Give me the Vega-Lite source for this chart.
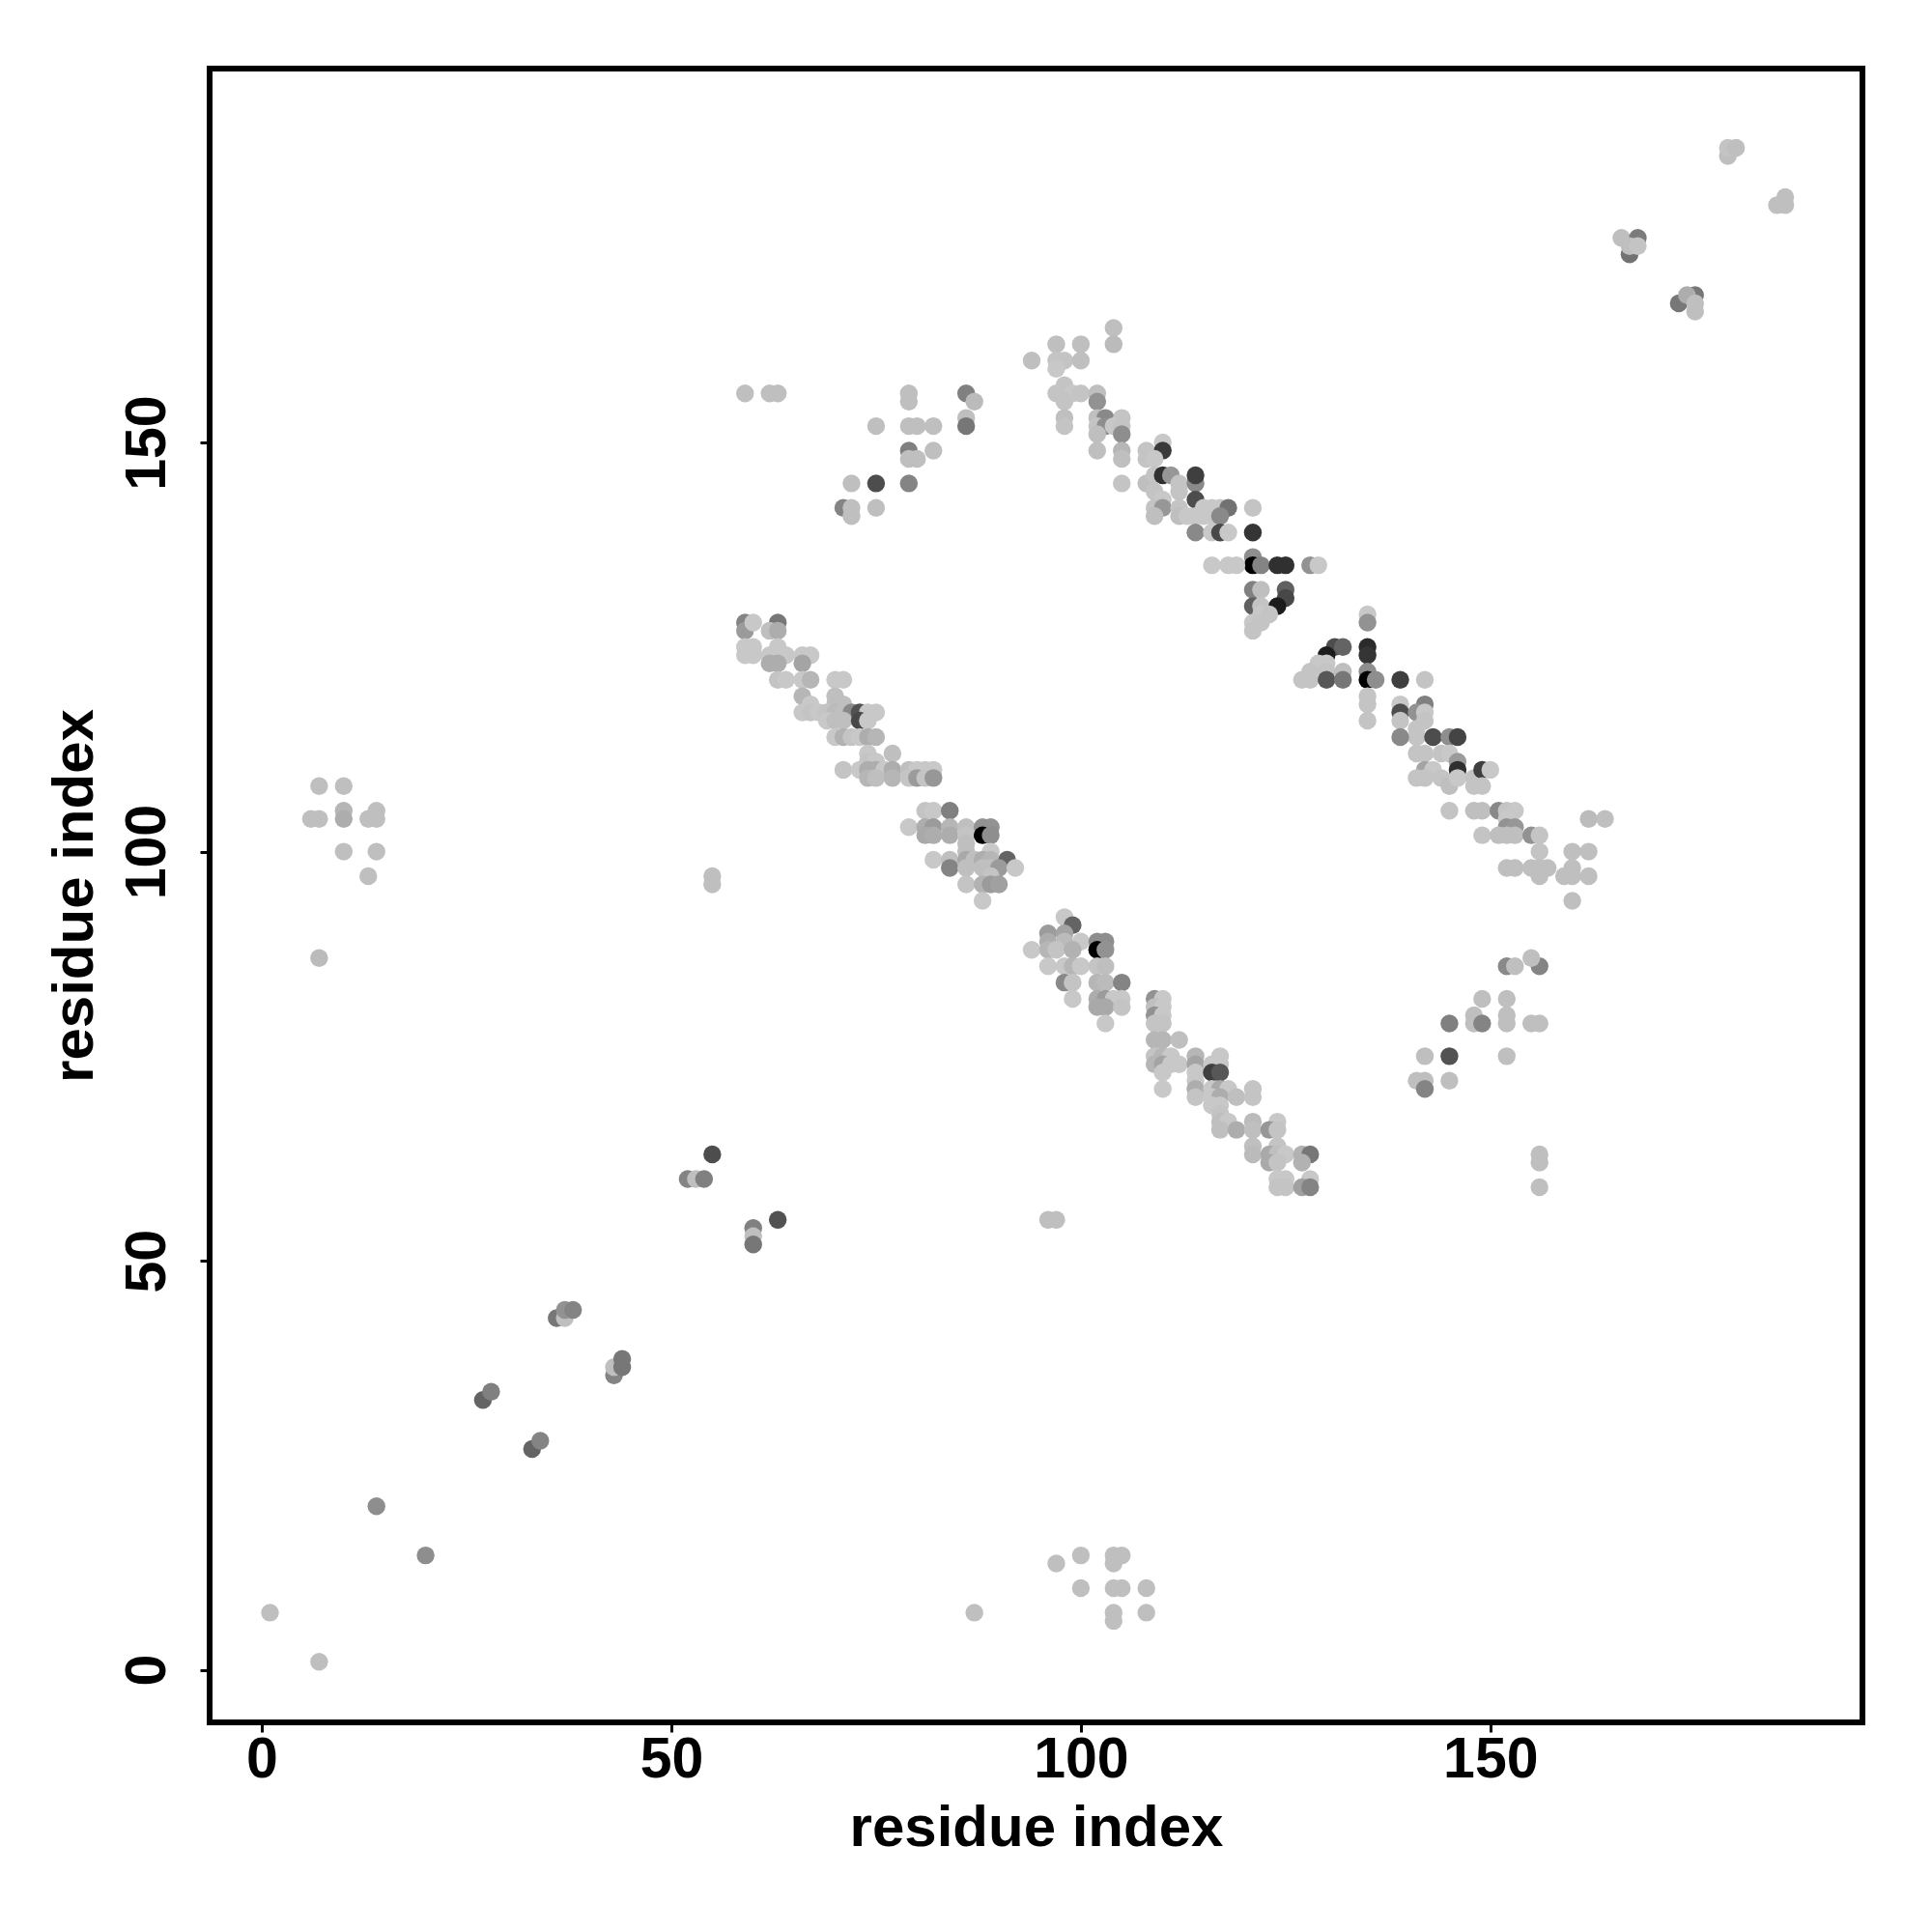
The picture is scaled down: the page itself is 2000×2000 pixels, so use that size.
{"$schema":"https://vega.github.io/schema/vega-lite/v6.json","width":1711,"height":1712,"autosize":{"type":"none"},"padding":{"left":217,"top":71,"right":72,"bottom":217},"background":"white","config":{"view":{"stroke":"black","strokeWidth":6}},
"data":{"values":[
{"x":59,"y":128,"g":125},{"x":59,"y":127,"g":150},{"x":60,"y":128,"g":200},{"x":63,"y":128,"g":110},{"x":62,"y":127,"g":190},{"x":63,"y":127,"g":170},{"x":59,"y":125,"g":200},{"x":60,"y":125,"g":200},{"x":59,"y":124,"g":200},{"x":60,"y":124,"g":200},{"x":63,"y":125,"g":200},{"x":62,"y":124,"g":200},{"x":63,"y":124,"g":200},{"x":64,"y":124,"g":200},{"x":66,"y":124,"g":200},{"x":67,"y":124,"g":200},{"x":62,"y":123,"g":170},{"x":63,"y":123,"g":170},{"x":66,"y":123,"g":160},
{"x":63,"y":121,"g":195},{"x":64,"y":121,"g":200},{"x":66,"y":121,"g":200},{"x":67,"y":121,"g":180},{"x":70,"y":121,"g":200},{"x":71,"y":121,"g":200},{"x":66,"y":119,"g":180},{"x":70,"y":119,"g":190},{"x":67,"y":118,"g":200},{"x":70,"y":118,"g":190},{"x":71,"y":118,"g":190},{"x":66,"y":117,"g":200},{"x":67,"y":117,"g":195},{"x":68,"y":117,"g":200},{"x":69,"y":117,"g":195},{"x":70,"y":117,"g":185},{"x":71,"y":117,"g":190},{"x":72,"y":117,"g":130},{"x":73,"y":117,"g":70},{"x":74,"y":117,"g":200},{"x":75,"y":117,"g":200},{"x":69,"y":116,"g":200},{"x":70,"y":116,"g":190},{"x":71,"y":116,"g":190},{"x":73,"y":116,"g":60},{"x":74,"y":116,"g":200},
{"x":70,"y":114,"g":200},{"x":71,"y":114,"g":175},{"x":72,"y":114,"g":195},{"x":73,"y":114,"g":200},{"x":74,"y":114,"g":170},{"x":75,"y":114,"g":180},{"x":74,"y":112,"g":200},{"x":77,"y":112,"g":190},{"x":74,"y":111,"g":195},{"x":75,"y":111,"g":200},{"x":71,"y":110,"g":195},{"x":73,"y":110,"g":200},{"x":74,"y":110,"g":170},{"x":75,"y":110,"g":170},{"x":76,"y":110,"g":200},{"x":77,"y":110,"g":170},{"x":79,"y":110,"g":190},{"x":80,"y":110,"g":200},{"x":81,"y":110,"g":200},{"x":82,"y":110,"g":200},{"x":74,"y":109,"g":180},{"x":75,"y":109,"g":190},{"x":77,"y":109,"g":180},{"x":79,"y":109,"g":195},{"x":80,"y":109,"g":150},{"x":81,"y":109,"g":195},{"x":82,"y":109,"g":145},
{"x":81,"y":105,"g":195},{"x":82,"y":105,"g":200},{"x":84,"y":105,"g":120},{"x":79,"y":103,"g":200},{"x":81,"y":103,"g":170},{"x":82,"y":103,"g":150},{"x":84,"y":103,"g":180},{"x":86,"y":103,"g":190},{"x":88,"y":103,"g":140},{"x":89,"y":103,"g":140},{"x":81,"y":102,"g":165},{"x":82,"y":102,"g":170},{"x":84,"y":102,"g":170},{"x":86,"y":102,"g":195},{"x":88,"y":102,"g":0},{"x":89,"y":102,"g":135},{"x":86,"y":101,"g":190},{"x":86,"y":100,"g":190},{"x":89,"y":100,"g":200},{"x":82,"y":99,"g":200},{"x":84,"y":99,"g":190},{"x":86,"y":99,"g":165},{"x":87,"y":99,"g":190},{"x":88,"y":99,"g":170},{"x":89,"y":99,"g":180},{"x":91,"y":99,"g":90},{"x":84,"y":98,"g":125},{"x":86,"y":98,"g":190},{"x":88,"y":98,"g":190},{"x":89,"y":98,"g":190},{"x":90,"y":98,"g":150},{"x":92,"y":98,"g":200},{"x":89,"y":97,"g":195},{"x":86,"y":96,"g":195},{"x":88,"y":96,"g":175},{"x":89,"y":96,"g":150},{"x":90,"y":96,"g":155},{"x":88,"y":94,"g":200},
{"x":98,"y":92,"g":200},{"x":99,"y":91,"g":90},{"x":96,"y":90,"g":150},{"x":98,"y":90,"g":160},{"x":96,"y":89,"g":170},{"x":98,"y":89,"g":185},{"x":100,"y":89,"g":200},{"x":102,"y":89,"g":135},{"x":103,"y":89,"g":135},{"x":94,"y":88,"g":200},{"x":96,"y":88,"g":180},{"x":97,"y":88,"g":195},{"x":99,"y":88,"g":175},{"x":102,"y":88,"g":0},{"x":103,"y":88,"g":140},{"x":96,"y":86,"g":200},{"x":98,"y":86,"g":200},{"x":99,"y":86,"g":180},{"x":100,"y":86,"g":200},{"x":102,"y":86,"g":195},{"x":103,"y":86,"g":190},{"x":98,"y":84,"g":130},{"x":99,"y":84,"g":195},{"x":102,"y":84,"g":180},{"x":103,"y":84,"g":185},{"x":105,"y":84,"g":125},{"x":99,"y":82,"g":200},{"x":102,"y":82,"g":170},{"x":103,"y":82,"g":150},{"x":104,"y":82,"g":200},{"x":105,"y":82,"g":200},{"x":102,"y":81,"g":165},{"x":103,"y":81,"g":165},{"x":105,"y":81,"g":195},{"x":103,"y":79,"g":200},
{"x":109,"y":82,"g":140},{"x":110,"y":82,"g":200},{"x":109,"y":81,"g":190},{"x":110,"y":81,"g":200},{"x":109,"y":80,"g":140},{"x":110,"y":80,"g":200},{"x":109,"y":79,"g":195},{"x":110,"y":79,"g":195},{"x":109,"y":77,"g":180},{"x":110,"y":77,"g":180},{"x":112,"y":77,"g":190},{"x":109,"y":75,"g":195},{"x":110,"y":75,"g":180},{"x":111,"y":75,"g":200},{"x":109,"y":74,"g":180},{"x":110,"y":74,"g":160},{"x":111,"y":74,"g":200},{"x":112,"y":74,"g":200},{"x":110,"y":73,"g":200},{"x":110,"y":71,"g":200},
{"x":114,"y":75,"g":180},{"x":114,"y":74,"g":160},{"x":114,"y":73,"g":200},{"x":114,"y":72,"g":200},{"x":114,"y":71,"g":170},{"x":114,"y":70,"g":195},{"x":117,"y":75,"g":200},{"x":116,"y":74,"g":200},{"x":117,"y":74,"g":200},{"x":116,"y":73,"g":50},{"x":117,"y":73,"g":75},{"x":116,"y":71,"g":200},{"x":117,"y":71,"g":165},{"x":118,"y":71,"g":200},{"x":121,"y":71,"g":195},{"x":116,"y":70,"g":200},{"x":117,"y":70,"g":170},{"x":119,"y":70,"g":190},{"x":121,"y":70,"g":195},{"x":116,"y":69,"g":200},{"x":117,"y":69,"g":200},{"x":117,"y":68,"g":195},{"x":117,"y":67,"g":190},{"x":118,"y":67,"g":200},{"x":121,"y":67,"g":185},{"x":124,"y":67,"g":200},{"x":117,"y":66,"g":190},{"x":119,"y":66,"g":170},{"x":121,"y":66,"g":190},{"x":123,"y":66,"g":145},{"x":124,"y":66,"g":195},{"x":121,"y":64,"g":190},{"x":124,"y":64,"g":195},{"x":121,"y":63,"g":185},{"x":123,"y":63,"g":165},{"x":124,"y":63,"g":190},{"x":125,"y":63,"g":200},{"x":127,"y":63,"g":175},{"x":128,"y":63,"g":110},{"x":123,"y":62,"g":165},{"x":124,"y":62,"g":195},{"x":127,"y":62,"g":175},{"x":124,"y":60,"g":200},{"x":125,"y":60,"g":200},{"x":128,"y":60,"g":200},{"x":124,"y":59,"g":195},{"x":125,"y":59,"g":195},{"x":127,"y":59,"g":155},{"x":128,"y":59,"g":125},
{"x":104,"y":164,"g":190},{"x":104,"y":162,"g":185},{"x":97,"y":162,"g":190},{"x":100,"y":162,"g":190},{"x":94,"y":160,"g":190},{"x":97,"y":160,"g":195},{"x":98,"y":160,"g":195},{"x":100,"y":160,"g":190},{"x":97,"y":159,"g":200},{"x":98,"y":157,"g":195},{"x":97,"y":156,"g":195},{"x":98,"y":156,"g":195},{"x":99,"y":156,"g":200},{"x":100,"y":156,"g":195},{"x":102,"y":156,"g":190},{"x":98,"y":155,"g":195},{"x":102,"y":155,"g":140},{"x":98,"y":153,"g":190},{"x":98,"y":152,"g":195},{"x":102,"y":153,"g":190},{"x":103,"y":153,"g":130},{"x":105,"y":153,"g":195},{"x":102,"y":152,"g":195},{"x":103,"y":152,"g":135},{"x":104,"y":152,"g":200},{"x":105,"y":152,"g":195},{"x":102,"y":151,"g":190},{"x":105,"y":151,"g":135},{"x":102,"y":149,"g":190},{"x":105,"y":149,"g":180},{"x":105,"y":148,"g":190},{"x":108,"y":149,"g":195},{"x":110,"y":150,"g":200},{"x":110,"y":149,"g":45},{"x":108,"y":148,"g":195},{"x":109,"y":148,"g":200},{"x":105,"y":145,"g":195},{"x":108,"y":145,"g":190},{"x":109,"y":146,"g":195},{"x":110,"y":146,"g":35},{"x":111,"y":146,"g":145},{"x":112,"y":145,"g":195},{"x":114,"y":145,"g":130},{"x":114,"y":146,"g":50},{"x":109,"y":144,"g":195},{"x":112,"y":144,"g":195},{"x":110,"y":143,"g":200},{"x":114,"y":143,"g":65},{"x":109,"y":142,"g":195},{"x":110,"y":142,"g":145},{"x":112,"y":142,"g":195},{"x":115,"y":142,"g":200},{"x":116,"y":142,"g":200},{"x":117,"y":142,"g":200},{"x":118,"y":142,"g":105},{"x":121,"y":142,"g":195},{"x":109,"y":141,"g":190},{"x":112,"y":141,"g":190},{"x":113,"y":141,"g":200},{"x":114,"y":141,"g":200},{"x":115,"y":141,"g":200},{"x":116,"y":141,"g":200},{"x":117,"y":141,"g":130},
{"x":114,"y":139,"g":130},{"x":116,"y":139,"g":200},{"x":117,"y":139,"g":60},{"x":118,"y":139,"g":200},{"x":121,"y":139,"g":40},{"x":121,"y":136,"g":135},{"x":121,"y":135,"g":0},{"x":122,"y":135,"g":125},{"x":116,"y":135,"g":200},{"x":118,"y":135,"g":200},{"x":119,"y":135,"g":200},{"x":124,"y":135,"g":35},{"x":125,"y":135,"g":35},{"x":128,"y":135,"g":140},{"x":129,"y":135,"g":200},{"x":121,"y":132,"g":120},{"x":122,"y":132,"g":190},{"x":125,"y":132,"g":85},{"x":125,"y":131,"g":60},{"x":121,"y":130,"g":85},{"x":122,"y":130,"g":195},{"x":124,"y":130,"g":15},{"x":122,"y":129,"g":200},{"x":123,"y":129,"g":195},{"x":121,"y":128,"g":200},{"x":122,"y":128,"g":195},{"x":121,"y":127,"g":195},
{"x":135,"y":129,"g":200},{"x":135,"y":128,"g":140},{"x":135,"y":125,"g":30},{"x":135,"y":124,"g":40},{"x":131,"y":125,"g":65},{"x":132,"y":125,"g":90},{"x":130,"y":124,"g":15},{"x":129,"y":123,"g":200},{"x":130,"y":123,"g":200},{"x":128,"y":122,"g":195},{"x":130,"y":122,"g":195},{"x":132,"y":122,"g":190},{"x":127,"y":121,"g":195},{"x":128,"y":121,"g":195},{"x":130,"y":121,"g":75},{"x":132,"y":121,"g":110},{"x":135,"y":122,"g":135},{"x":135,"y":121,"g":0},{"x":136,"y":121,"g":135},{"x":139,"y":121,"g":50},{"x":142,"y":121,"g":195},{"x":135,"y":119,"g":195},{"x":135,"y":118,"g":195},{"x":135,"y":116,"g":195},{"x":139,"y":118,"g":200},{"x":139,"y":117,"g":65},{"x":139,"y":116,"g":195},{"x":142,"y":118,"g":120},{"x":141,"y":117,"g":140},{"x":142,"y":117,"g":200},{"x":142,"y":116,"g":195},{"x":141,"y":115,"g":195},{"x":141,"y":114,"g":195},{"x":139,"y":114,"g":130},{"x":143,"y":114,"g":65},{"x":145,"y":114,"g":135},{"x":146,"y":114,"g":55},{"x":141,"y":112,"g":195},{"x":142,"y":112,"g":195},{"x":144,"y":112,"g":195},{"x":145,"y":112,"g":200},{"x":146,"y":111,"g":150},{"x":146,"y":110,"g":35},{"x":142,"y":110,"g":160},{"x":143,"y":110,"g":200},{"x":141,"y":109,"g":195},{"x":142,"y":109,"g":195},{"x":144,"y":109,"g":195},{"x":145,"y":108,"g":190},{"x":146,"y":109,"g":200},{"x":148,"y":109,"g":195},{"x":149,"y":110,"g":50},{"x":150,"y":110,"g":200},{"x":148,"y":108,"g":195},{"x":149,"y":108,"g":195},
{"x":145,"y":105,"g":195},{"x":148,"y":105,"g":190},{"x":149,"y":105,"g":190},{"x":151,"y":105,"g":130},{"x":152,"y":105,"g":195},{"x":153,"y":105,"g":200},{"x":152,"y":104,"g":200},{"x":152,"y":103,"g":140},{"x":153,"y":103,"g":145},{"x":149,"y":102,"g":195},{"x":151,"y":102,"g":190},{"x":152,"y":102,"g":190},{"x":153,"y":102,"g":190},{"x":155,"y":102,"g":140},{"x":156,"y":102,"g":195},{"x":156,"y":100,"g":195},{"x":160,"y":100,"g":190},{"x":162,"y":100,"g":190},{"x":160,"y":98,"g":190},{"x":152,"y":98,"g":190},{"x":153,"y":98,"g":190},{"x":155,"y":98,"g":190},{"x":156,"y":98,"g":190},{"x":157,"y":98,"g":190},{"x":156,"y":97,"g":190},{"x":159,"y":97,"g":190},{"x":160,"y":97,"g":190},{"x":162,"y":97,"g":190},{"x":160,"y":94,"g":190},{"x":162,"y":104,"g":185},{"x":164,"y":104,"g":190},
{"x":179,"y":185,"g":190},{"x":179,"y":186,"g":195},{"x":180,"y":186,"g":190},{"x":185,"y":179,"g":190},{"x":186,"y":180,"g":190},{"x":186,"y":179,"g":190},{"x":166,"y":175,"g":190},{"x":168,"y":175,"g":115},{"x":167,"y":173,"g":105},{"x":167,"y":174,"g":190},{"x":168,"y":174,"g":195},{"x":173,"y":167,"g":110},{"x":175,"y":168,"g":110},{"x":174,"y":168,"g":170},{"x":175,"y":166,"g":190},{"x":175,"y":167,"g":190},
{"x":59,"y":156,"g":190},{"x":62,"y":156,"g":190},{"x":63,"y":156,"g":190},{"x":79,"y":156,"g":190},{"x":79,"y":155,"g":190},{"x":86,"y":156,"g":120},{"x":87,"y":155,"g":185},{"x":86,"y":153,"g":190},{"x":86,"y":152,"g":110},{"x":75,"y":152,"g":190},{"x":79,"y":152,"g":190},{"x":80,"y":152,"g":190},{"x":82,"y":152,"g":190},{"x":79,"y":149,"g":120},{"x":82,"y":149,"g":190},{"x":80,"y":148,"g":190},{"x":79,"y":148,"g":190},{"x":72,"y":145,"g":190},{"x":75,"y":145,"g":65},{"x":79,"y":145,"g":125},{"x":71,"y":142,"g":125},{"x":72,"y":142,"g":190},{"x":72,"y":141,"g":190},{"x":75,"y":142,"g":190},
{"x":7,"y":108,"g":190},{"x":10,"y":108,"g":190},{"x":6,"y":104,"g":190},{"x":7,"y":104,"g":190},{"x":10,"y":105,"g":180},{"x":10,"y":104,"g":170},{"x":13,"y":104,"g":190},{"x":14,"y":105,"g":190},{"x":14,"y":104,"g":190},{"x":10,"y":100,"g":190},{"x":14,"y":100,"g":190},{"x":13,"y":97,"g":190},{"x":7,"y":87,"g":185},{"x":55,"y":97,"g":190},{"x":55,"y":96,"g":190},
{"x":1,"y":7,"g":190},{"x":7,"y":1,"g":190},{"x":14,"y":20,"g":135},{"x":20,"y":14,"g":135},{"x":27,"y":33,"g":90},{"x":28,"y":34,"g":120},{"x":33,"y":27,"g":90},{"x":34,"y":28,"g":125},{"x":36,"y":43,"g":110},{"x":37,"y":43,"g":190},{"x":37,"y":44,"g":140},{"x":38,"y":44,"g":125},{"x":43,"y":36,"g":125},{"x":43,"y":37,"g":190},{"x":44,"y":37,"g":110},{"x":44,"y":38,"g":110},{"x":52,"y":60,"g":125},{"x":53,"y":60,"g":190},{"x":54,"y":60,"g":120},{"x":55,"y":63,"g":65},{"x":60,"y":54,"g":120},{"x":60,"y":53,"g":190},{"x":60,"y":52,"g":110},{"x":63,"y":55,"g":70},
{"x":87,"y":7,"g":190},{"x":97,"y":13,"g":190},{"x":100,"y":14,"g":190},{"x":104,"y":14,"g":190},{"x":105,"y":14,"g":190},{"x":104,"y":13,"g":190},{"x":100,"y":10,"g":190},{"x":104,"y":10,"g":190},{"x":105,"y":10,"g":190},{"x":108,"y":10,"g":190},{"x":104,"y":7,"g":190},{"x":108,"y":7,"g":190},{"x":104,"y":6,"g":190},{"x":96,"y":55,"g":190},{"x":97,"y":55,"g":190},
{"x":156,"y":86,"g":125},{"x":155,"y":87,"g":190},{"x":152,"y":86,"g":130},{"x":153,"y":86,"g":190},{"x":149,"y":82,"g":190},{"x":152,"y":82,"g":190},{"x":148,"y":80,"g":190},{"x":152,"y":80,"g":190},{"x":148,"y":79,"g":190},{"x":149,"y":79,"g":125},{"x":152,"y":79,"g":190},{"x":145,"y":79,"g":120},{"x":155,"y":79,"g":190},{"x":156,"y":79,"g":190},{"x":142,"y":75,"g":190},{"x":145,"y":75,"g":70},{"x":152,"y":75,"g":190},{"x":141,"y":72,"g":190},{"x":142,"y":72,"g":190},{"x":142,"y":71,"g":125},{"x":145,"y":72,"g":190},{"x":156,"y":63,"g":190},{"x":156,"y":62,"g":190},{"x":156,"y":59,"g":190}
]},
"mark":{"type":"point","filled":true,"opacity":1,"size":340,"shape":"circle"},
"encoding":{
"x":{"field":"x","type":"quantitative","title":"residue index","scale":{"domain":[-6.37,195.43],"nice":false,"zero":false},"axis":{"values":[0,50,100,150],"grid":false,"domain":false,"tickColor":"black","tickWidth":3,"tickSize":10,"labelFont":"Liberation Sans","labelFontWeight":"bold","labelFontSize":59,"labelColor":"black","labelPadding":-1,"labelFlush":false,"titleFont":"Liberation Sans","titleFontWeight":"bold","titleFontSize":60,"titleColor":"black","titlePadding":12}},
"y":{"field":"y","type":"quantitative","title":"residue index","scale":{"domain":[-6.41,195.69],"nice":false,"zero":false},"axis":{"values":[0,50,100,150],"grid":false,"domain":false,"tickColor":"black","tickWidth":3,"tickSize":10,"labelFont":"Liberation Sans","labelFontWeight":"bold","labelFontSize":59,"labelColor":"black","labelAngle":-90,"labelAlign":"center","labelBaseline":"bottom","labelPadding":25,"labelFlush":false,"titleFont":"Liberation Sans","titleFontWeight":"bold","titleFontSize":60,"titleColor":"black","titlePadding":15}},
"color":{"field":"g","type":"quantitative","legend":null,"scale":{"type":"pow","exponent":0.8,"domain":[0,200],"range":["#000000","#c8c8c8"],"clamp":true}},
"order":[{"field":"x","type":"quantitative"},{"field":"y","type":"quantitative"}]
}}
